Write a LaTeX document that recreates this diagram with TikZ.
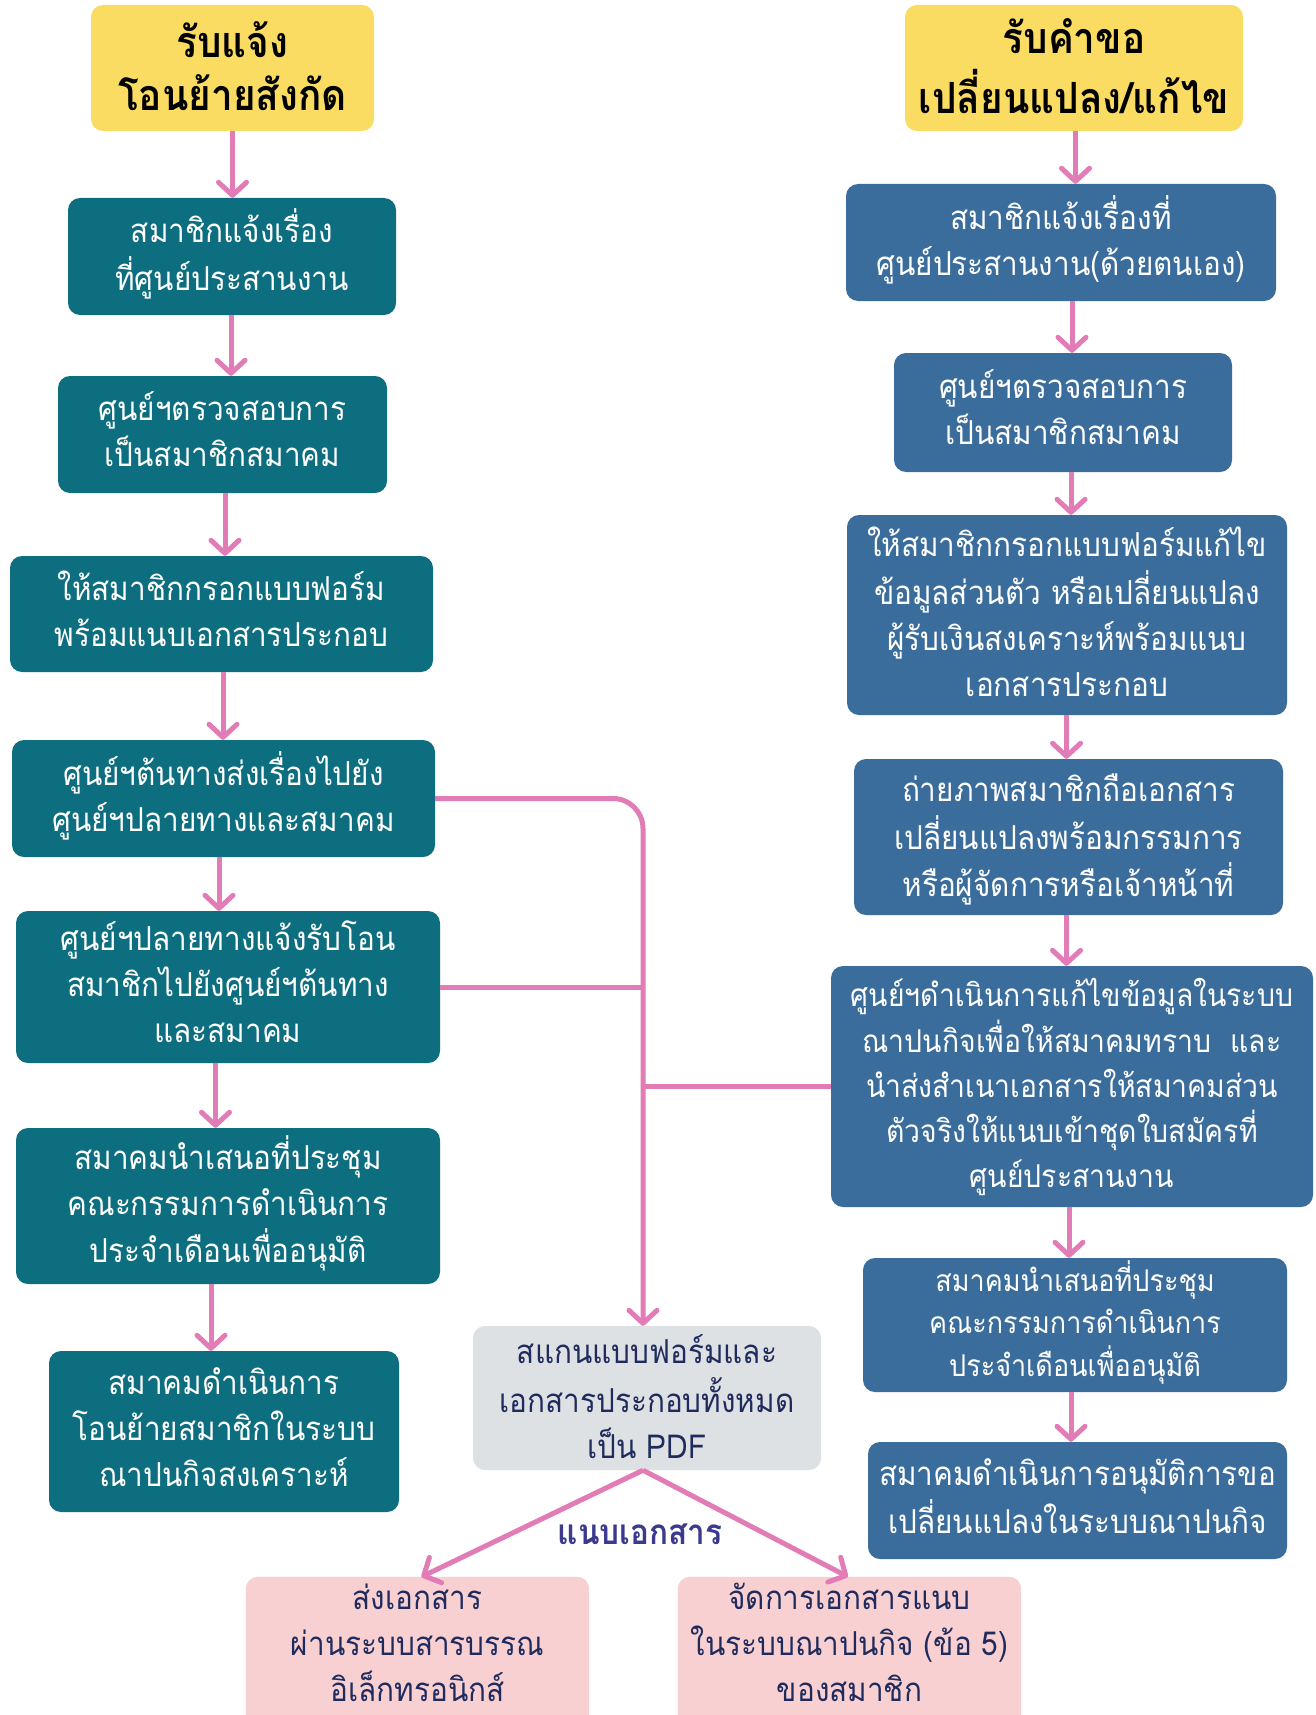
\documentclass[tikz,border=0pt]{standalone}
\usepackage{fontspec}
\usetikzlibrary{arrows.meta,backgrounds}
\setmainfont[Script=Thai, FakeStretch=0.9]{Loma}

\definecolor{titlefill}{HTML}{FBDC62}
\definecolor{tealfill}{HTML}{0D6E7F}
\definecolor{bluefill}{HTML}{3A6D9C}
\definecolor{grayfill}{HTML}{DEE1E4}
\definecolor{pinkfill}{HTML}{F9D0D2}
\definecolor{pinkline}{HTML}{E27CB7}
\definecolor{navytext}{HTML}{1E2B5C}
\definecolor{labeltext}{HTML}{3B3A8C}

% centred lines of a box; the optional shift moves the ink while the box keeps its size
\newsavebox{\linesbox}
\newcommand{\boxlines}[2][0pt]{%
  \sbox{\linesbox}{\begin{tabular}{@{}c@{}}#2\end{tabular}}%
  \raisebox{#1}[\ht\linesbox][\dp\linesbox]{\usebox{\linesbox}}}

\tikzset{
  box/.style={rounded corners=12pt, inner sep=0pt,
    font=\fontsize{33}{46}\selectfont},
  titlebox/.style={box, fill=titlefill, text=black,
    font=\fontsize{43}{53}\selectfont\bfseries},
  tealbox/.style={box, fill=tealfill, text=white},
  bluebox/.style={box, fill=bluefill, text=white},
  graybox/.style={box, fill=grayfill, text=navytext},
  pinkbox/.style={box, text=navytext},
  pline/.style={draw=pinkline, line width=5pt},
  arr/.style={pline, -{Straight Barb[length=13pt, width=28pt, round]}},
}

\begin{document}
\begin{tikzpicture}[x=1pt, y=-1pt]
\useasboundingbox (0,0) rectangle (1315,1715);
\clip (0,0) rectangle (1315,1715);

% left column: transfer of membership
\node[titlebox, minimum width=283, minimum height=126] (Y1) at (232.5,68) {\boxlines[-5pt]{รับแจ้ง\\โอนย้ายสังกัด}};
\node[tealbox, minimum width=328, minimum height=117] (L1) at (232,256.5) {\boxlines{สมาชิกแจ้งเรื่อง\\ที่ศูนย์ประสานงาน}};
\node[tealbox, minimum width=329, minimum height=117] (L2) at (222.5,434.5) {\boxlines{ศูนย์ฯตรวจสอบการ\\เป็นสมาชิกสมาคม}};
\node[tealbox, minimum width=423, minimum height=116] (L3) at (221.5,614) {\boxlines{ให้สมาชิกกรอกแบบฟอร์ม\\พร้อมแนบเอกสารประกอบ}};
\node[tealbox, minimum width=423, minimum height=117] (L4) at (223.5,798.5) {\boxlines{ศูนย์ฯต้นทางส่งเรื่องไปยัง\\ศูนย์ฯปลายทางและสมาคม}};
\node[tealbox, minimum width=424, minimum height=152] (L5) at (228,987) {\boxlines{ศูนย์ฯปลายทางแจ้งรับโอน\\สมาชิกไปยังศูนย์ฯต้นทาง\\และสมาคม}};
\node[tealbox, minimum width=424, minimum height=156] (L6) at (228,1206) {\boxlines{สมาคมนำเสนอที่ประชุม\\คณะกรรมการดำเนินการ\\ประจำเดือนเพื่ออนุมัติ}};
\node[tealbox, minimum width=350, minimum height=161] (L7) at (224,1431.5) {\boxlines{สมาคมดำเนินการ\\โอนย้ายสมาชิกในระบบ\\ณาปนกิจสงเคราะห์}};

% right column: change or correction of details
\node[titlebox, minimum width=338, minimum height=126] (Y2) at (1074,68) {\boxlines[-5pt]{รับคำขอ\\เปลี่ยนแปลง/แก้ไข}};
\node[bluebox, minimum width=430, minimum height=117] (R1) at (1061,242.5) {\boxlines{สมาชิกแจ้งเรื่องที่\\ศูนย์ประสานงาน(ด้วยตนเอง)}};
\node[bluebox, minimum width=338, minimum height=119] (R2) at (1063,412.5) {\boxlines{ศูนย์ฯตรวจสอบการ\\เป็นสมาชิกสมาคม}};
\node[bluebox, minimum width=440, minimum height=200] (R3) at (1067,615) {\boxlines[-2pt]{ให้สมาชิกกรอกแบบฟอร์มแก้ไข\\ข้อมูลส่วนตัว หรือเปลี่ยนแปลง\\ผู้รับเงินสงเคราะห์พร้อมแนบ\\เอกสารประกอบ}};
\node[bluebox, minimum width=429, minimum height=156] (R4) at (1068.5,837) {\boxlines[-3pt]{ถ่ายภาพสมาชิกถือเอกสาร\\เปลี่ยนแปลงพร้อมกรรมการ\\หรือผู้จัดการหรือเจ้าหน้าที่}};
\node[bluebox, minimum width=482, minimum height=241, font=\fontsize{31.5}{45}\selectfont] (R5) at (1072,1086.5) {\boxlines[-1.5pt]{ศูนย์ฯดำเนินการแก้ไขข้อมูลในระบบ\\ณาปนกิจเพื่อให้สมาคมทราบ\ \ และ\\นำส่งสำเนาเอกสารให้สมาคมส่วน\\ตัวจริงให้แนบเข้าชุดใบสมัครที่\\ศูนย์ประสานงาน}};
\node[bluebox, minimum width=424, minimum height=134, font=\fontsize{30}{41.5}\selectfont] (R6) at (1075,1325) {\boxlines{สมาคมนำเสนอที่ประชุม\\คณะกรรมการดำเนินการ\\ประจำเดือนเพื่ออนุมัติ}};
\node[bluebox, minimum width=419, minimum height=117] (R7) at (1077.5,1500.5) {\boxlines{สมาคมดำเนินการอนุมัติการขอ\\เปลี่ยนแปลงในระบบณาปนกิจ}};

% shared document handling
\node[graybox, minimum width=348, minimum height=144] (G) at (647,1398) {\boxlines[-4pt]{สแกนแบบฟอร์มและ\\เอกสารประกอบทั้งหมด\\เป็น PDF}};
\node[pinkbox, minimum width=343, minimum height=138] (P1) at (417.5,1646) {\boxlines{ส่งเอกสาร\\ผ่านระบบสารบรรณ\\อิเล็กทรอนิกส์}};
\node[pinkbox, minimum width=343, minimum height=138] (P2) at (849.5,1646) {\boxlines{จัดการเอกสารแนบ\\ในระบบณาปนกิจ (ข้อ 5)\\ของสมาชิก}};
\node[text=labeltext, font=\fontsize{35}{40}\selectfont\bfseries] (lab) at (640,1534) {แนบเอกสาร};

% white page, and the two route boxes running on past the lower edge
\begin{scope}[on background layer]
  \fill[white] (0,0) rectangle (1315,1715);
  \fill[pinkfill, rounded corners=12pt] (P1.north west) -- (P1.north east)
    -- ([yshift=-30pt]P1.south east) -- ([yshift=-30pt]P1.south west) -- cycle;
  \fill[pinkfill, rounded corners=12pt] (P2.north west) -- (P2.north east)
    -- ([yshift=-30pt]P2.south east) -- ([yshift=-30pt]P2.south west) -- cycle;
\end{scope}

% left column arrows
\draw[arr] (Y1.south) -- (Y1.south |- L1.north);
\draw[arr] ([xshift=-1]L1.south) -- ([xshift=-1]L1.south |- L2.north);
\draw[arr] ([xshift=2.5]L2.south) -- ([xshift=2.5]L2.south |- L3.north);
\draw[arr] ([xshift=1.5]L3.south) -- ([xshift=1.5]L3.south |- L4.north);
\draw[arr] ([xshift=-4.5]L4.south) -- ([xshift=-4.5]L4.south |- L5.north);
\draw[arr] ([xshift=-12.5]L5.south) -- ([xshift=-12.5]L5.south |- L6.north);
\draw[arr] ([xshift=-17]L6.south) -- ([xshift=-17]L6.south |- L7.north);

% right column arrows
\draw[arr] ([xshift=1.5]Y2.south) -- ([xshift=1.5]Y2.south |- R1.north);
\draw[arr] ([xshift=11]R1.south) -- ([xshift=11]R1.south |- R2.north);
\draw[arr] ([xshift=8]R2.south) -- ([xshift=8]R2.south |- R3.north);
\draw[arr] ([xshift=-0.5]R3.south) -- ([xshift=-0.5]R3.south |- R4.north);
\draw[arr] ([xshift=-2]R4.south) -- ([xshift=-2]R4.south |- R5.north);
\draw[arr] ([xshift=-3]R5.south) -- ([xshift=-3]R5.south |- R6.north);
\draw[arr] ([xshift=-4]R6.south) -- ([xshift=-4]R6.south |- R7.north);

% collecting trunk into the scan step
\coordinate (T) at ([xshift=-4]G.north);
\draw[arr, rounded corners=30pt] (L4.east) -| (T);
\draw[pline] (L5.east) -- (L5.east -| T);
\draw[pline] (R5.west) -- (R5.west -| T);

% split into the two filing routes
\draw[arr] (T |- G.south) -- ([xshift=4]P1.north);
\draw[arr] (T |- G.south) -- ([xshift=-1.5]P2.north);
\end{tikzpicture}
\end{document}
